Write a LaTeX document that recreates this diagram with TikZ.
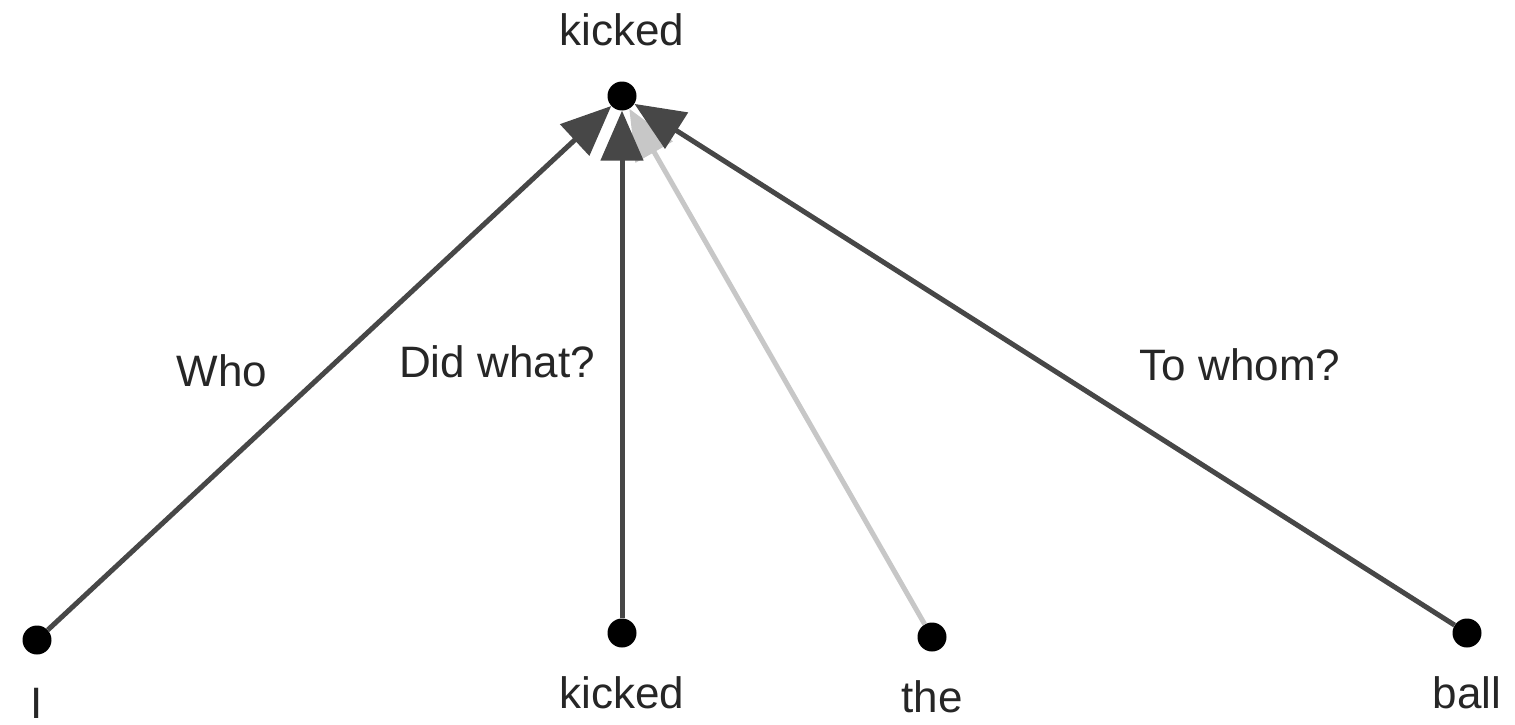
\documentclass[tikz,border=0pt]{standalone}
\usepackage{fontspec}
\setmainfont{Liberation Sans}
\usetikzlibrary{arrows.meta}
\begin{document}
\begin{tikzpicture}[x=1pt,y=-1pt,
  dot/.style={circle,fill=black,inner sep=0pt,minimum size=29pt},
  lbl/.style={anchor=base,inner sep=0pt,text=black!85,font=\fontsize{44}{50}\selectfont},
  dep/.style={line width=5pt,draw=black!72,-{Triangle[length=50pt,width=42pt]}},
  weak/.style={dep,draw=black!22}]
\useasboundingbox (0,0) rectangle (1515,725);
\node[dot] (top) at (622,96) {};
\node[dot] (i) at (37,640) {};
\node[dot] (k) at (622,633) {};
\node[dot] (t) at (932,637) {};
\node[dot] (b) at (1467,633) {};
\node[lbl] (ltop) at (622,46) {kicked};
\node[lbl] (li) at (37,718) {I};
\node[lbl] (lk) at (622,708) {kicked};
\node[lbl] (lt) at (932,712) {the};
\node[lbl] (lb) at (1467,708) {ball};
\draw[weak] (t) -- (top);
\draw[dep] (i) -- (top);
\draw[dep] (k) -- (top);
\draw[dep] (b) -- (top);
\node[lbl] (who) at (222,386) {Who};
\node[lbl] (what) at (497,377) {Did what?};
\node[lbl] (whom) at (1240,380) {To whom?};
\end{tikzpicture}
\end{document}
